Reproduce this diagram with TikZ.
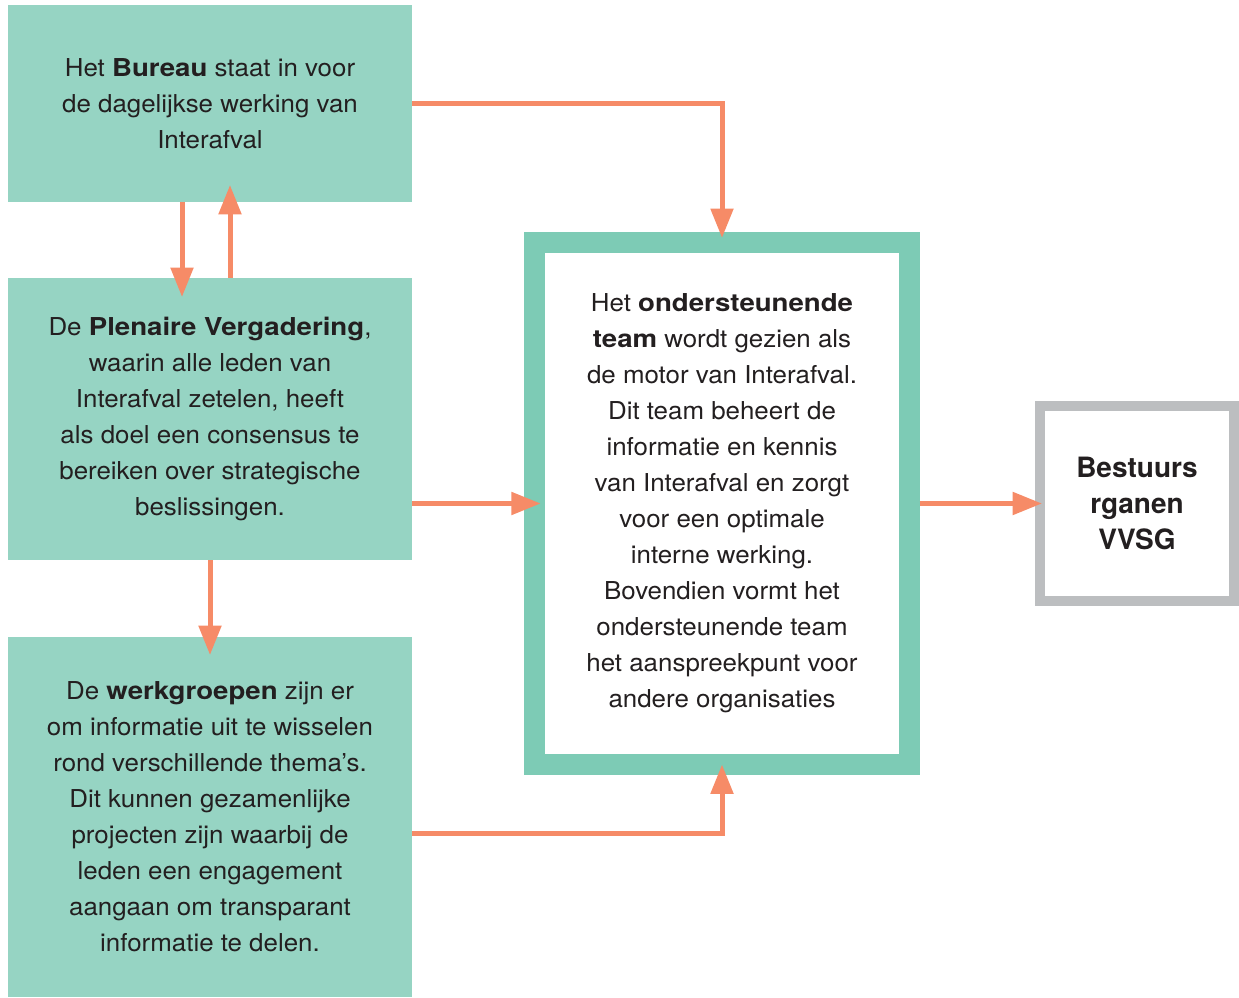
\documentclass[tikz,border=0pt]{standalone}
\usepackage{fontspec}
\setmainfont{TeX Gyre Heros}[FakeStretch=1.05, BoldFeatures={FakeStretch=1.12}]
\newfontfamily\framefont{TeX Gyre Heros}
\usetikzlibrary{arrows.meta, positioning}
\definecolor{boxgreen}{HTML}{96D4C3}
\definecolor{teamgreen}{HTML}{7DCBB5}
\definecolor{arroworange}{HTML}{F68B67}
\definecolor{framegrey}{HTML}{BCBEC0}
\definecolor{textgrey}{HTML}{231F20}

\begin{document}
\begin{tikzpicture}[x=0.75pt, y=-0.75pt, ->, >={Triangle[width=16.5pt,length=22pt]},
  line width=3.75pt, font=\fontsize{18.5}{27}\selectfont, text=textgrey,
  box/.style={rectangle, fill=boxgreen, align=center, inner sep=0pt, outer sep=0pt, minimum width=303pt},
  arr/.style={draw=arroworange}]

\useasboundingbox (0,0) rectangle (1239,998);

\node [box, minimum height=147.75pt] (bureau) at (210,103.5)
  {Het \textbf{Bureau} staat in voor\\de dagelijkse werking van\\Interafval};
\node [box, minimum height=211.5pt] (plenaire) at (210,419)
  {De \textbf{Plenaire Vergadering},\\waarin alle leden van\\Interafval zetelen, heeft\\als doel een consensus te\\bereiken over strategische\\beslissingen.};
\node [box, minimum height=270pt] (werkgroepen) at (210,817)
  {De \textbf{werkgroepen} zijn er\\om informatie uit te wisselen\\rond verschillende thema's.\\Dit kunnen gezamenlijke\\projecten zijn waarbij de\\leden een engagement\\aangaan om transparant\\informatie te delen.};
\node [rectangle, draw=teamgreen, line width=15.4pt, fill=white, align=center, inner sep=0pt, outer sep=0pt,
  minimum width=280.9pt, minimum height=391.5pt] (team) at (722,503.5)
  {Het \textbf{ondersteunende}\\\textbf{team} wordt gezien als\\de motor van Interafval.\\Dit team beheert de\\informatie en kennis\\van Interafval en zorgt\\voor een optimale\\interne werking.\\Bovendien vormt het\\ondersteunende team\\het aanspreekpunt voor\\andere organisaties};
\node [rectangle, draw=framegrey, line width=7.5pt, fill=white, align=center, inner sep=0pt, outer sep=0pt,
  minimum width=145.5pt, minimum height=146.25pt, font=\framefont\bfseries\fontsize{21}{27}\selectfont] (bestuur) at (1137,503.5)
  {Bestuurs\\rganen\\VVSG};

\draw [arr, shorten >=-14.25pt] ([xshift=-21pt]bureau.south) -- ([xshift=-21pt]plenaire.north);
\draw [arr, shorten >=-12.75pt] ([xshift=15pt]plenaire.north) -- ([xshift=15pt]bureau.south);
\draw [arr, shorten >=3.4pt] (bureau.east) -| (team.north);
\draw [arr, shorten >=-4.5pt] (plenaire.east |- team.west) -- (team.west);
\draw [arr, shorten >=-13.5pt] (plenaire.south) -- (werkgroepen.north);
\draw [arr] ([yshift=-12pt]werkgroepen.east) -| (team.south);
\draw [arr, shorten <=7.7pt, shorten >=-1.5pt] (team.east) -- (bestuur.west);

\end{tikzpicture}
\end{document}
